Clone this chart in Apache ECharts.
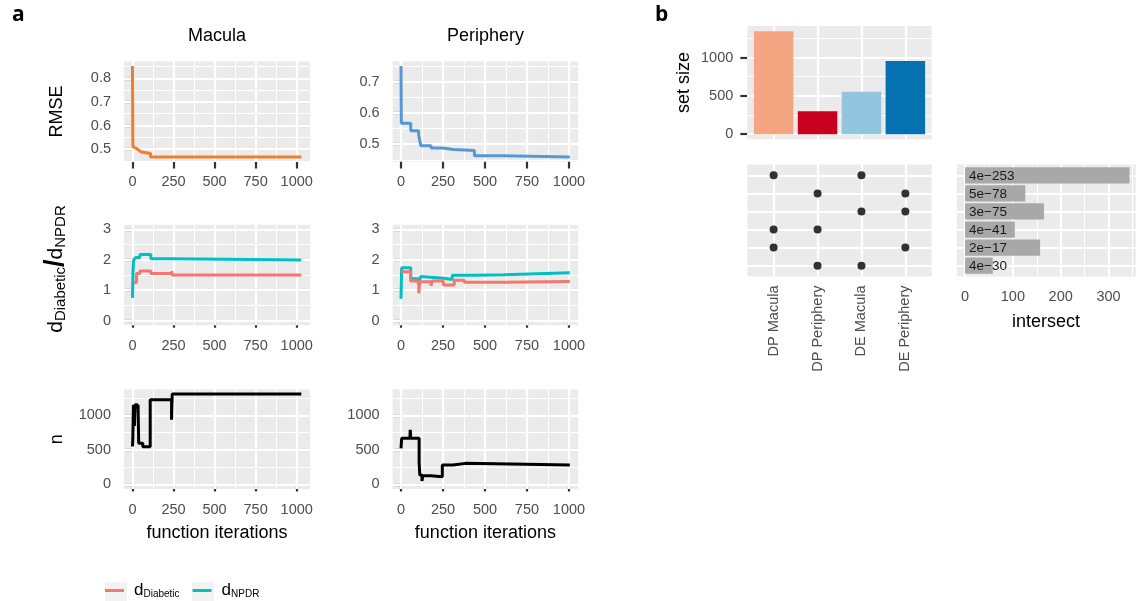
<!DOCTYPE html>
<html>
<head>
<meta charset="utf-8">
<script src="https://cdn.jsdelivr.net/npm/echarts@6/dist/echarts.min.js"></script>
<style>html,body{margin:0;padding:0;background:#fff}#c{width:1143px;height:601px}</style>
</head>
<body>
<div id="c"></div>
<script>
// ---------------- data ----------------
const iterTicks = [0, 250, 500, 750, 1000];
const rmseMaculaTicks = [0.5, 0.6, 0.7, 0.8];
const rmsePeripheryTicks = [0.5, 0.6, 0.7];
const ratioTicks = [0, 1, 2, 3];
const nTicks = [0, 500, 1000];
const setSizeTicks = [0, 500, 1000];
const intersectTicks = [0, 100, 200, 300];

// [function iteration, value]
const rmseMacula = [[0,0.852],[1,0.70],[2,0.56],[3,0.511],[12,0.503],[25,0.495],[40,0.488],[55,0.482],[110,0.467],[1028,0.467]];
const rmsePeriphery = [[0,0.75],[2,0.567],[58,0.543],[105,0.53],[112,0.51],[118,0.495],[179,0.488],[248,0.483],[312,0.48],[437,0.463],[613,0.459],[1005,0.459]];
const dNpdrMacula = [[0,0.75],[4,1.72],[8,2.0],[20,2.07],[45,2.17],[112,2.03],[240,1.99],[1028,1.99]];
const dDiabeticMacula = [[8,1.25],[25,1.55],[45,1.63],[112,1.55],[238,1.62],[242,1.5],[1028,1.5]];
const dNpdrPeriphery = [[0,0.72],[4,1.74],[58,1.38],[103,1.2],[113,1.38],[117,1.45],[122,1.39],[252,1.35],[305,1.49],[430,1.51],[613,1.57],[1005,1.57]];
const dDiabeticPeriphery = [[4,1.61],[57,1.3],[106,0.9],[112,1.28],[179,1.14],[185,1.3],[252,1.17],[317,1.33],[377,1.26],[613,1.29],[1005,1.29]];
const nMacula = [[0,550],[2,650],[6,1155],[12,850],[16,1155],[30,1100],[34,1155],[38,597],[63,548],[108,1228],[238,937],[242,1311],[1028,1311]];
const nPeriphery = [[0,524],[4,670],[53,670],[55,791],[58,670],[108,320],[112,136],[125,49],[130,126],[177,112],[246,282],[309,306],[384,282],[1005,282]];

const setNames = ['DP Macula', 'DP Periphery', 'DE Macula', 'DE Periphery'];
const setSizes = [1345, 298, 555, 955];
const intersectMembers = [[0,2],[1,3],[2,3],[0,1],[0,3],[1,2]];
const intersectSizes = [344, 126, 165, 104, 157, 58];
const intersectPvals = ['4e\u2212253','5e\u221278','3e\u221275','4e\u221241','2e\u221217','4e\u221230'];

// ---------------- style ----------------
const FONT = '"Liberation Sans", Arial, Helvetica, sans-serif';
const BG = '#EBEBEB';
const TICK_COLOR = '#333333';
const LABEL_COLOR = '#4D4D4D';
const MAJ_W = 2.2, MIN_W = 1.1;
const LINE_W = 3;
const setColors = ['#F4A582', '#CA0020', '#92C5DE', '#0571B0'];
const C_RMSE_MAC = '#F07F2D', C_RMSE_PER = '#5698D6', C_DIAB = '#F8766D', C_NPDR = '#00BFC4';

function minors(maj, lo, hi) {
  const step = maj[1] - maj[0], out = [];
  for (let i = -1; i < maj.length; i++) {
    const v = +(maj[0] + step * (i + 0.5)).toFixed(6);
    if (v > lo && v < hi) out.push(v);
  }
  return out;
}

const grid = [], xAxis = [], yAxis = [], series = [];

function axisDef(gi, r, s) {
  return {
    type: 'value', gridIndex: gi, min: r[0], max: r[1], inverse: !!s.inverse,
    axisLine: { show: false }, splitLine: { show: false }, minorSplitLine: { show: false },
    axisTick: s.ticks ? { show: true, customValues: s.ticks, length: 7, lineStyle: { color: TICK_COLOR, width: 2.2 } } : { show: false },
    axisLabel: s.labels ? {
      show: true, customValues: s.labels, formatter: s.fmt || (v => String(v)),
      color: LABEL_COLOR, fontSize: 14.5, fontFamily: FONT, margin: s.margin != null ? s.margin : 12, rotate: s.rotate || 0
    } : { show: false }
  };
}

function addPanel(rect, xr, yr, xs, ys, lines) {
  const gi = grid.length;
  grid.push({ left: rect[0], top: rect[1], width: rect[2], height: rect[3], show: true, backgroundColor: BG, borderWidth: 0, outerBoundsMode: 'none', containLabel: false });
  xAxis.push(axisDef(gi, xr, xs));
  yAxis.push(axisDef(gi, yr, ys));
  const d = [];
  (lines.xMin || []).forEach(v => d.push({ xAxis: v, lineStyle: { width: MIN_W } }));
  (lines.yMin || []).forEach(v => d.push({ yAxis: v, lineStyle: { width: MIN_W } }));
  (lines.xMaj || []).forEach(v => d.push({ xAxis: v, lineStyle: { width: MAJ_W } }));
  (lines.yMaj || []).forEach(v => d.push({ yAxis: v, lineStyle: { width: MAJ_W } }));
  series.push({
    type: 'line', xAxisIndex: gi, yAxisIndex: gi, data: [], silent: true, z: 1,
    markLine: { silent: true, z: 1, symbol: 'none', precision: 6, label: { show: false }, emphasis: { disabled: true },
      lineStyle: { color: '#ffffff', type: 'solid', width: MAJ_W }, animation: false, data: d }
  });
  return gi;
}

function stepLine(gi, name, data, color) {
  series.push({
    type: 'line', name: name, xAxisIndex: gi, yAxisIndex: gi, data: data, step: 'end', showSymbol: false, symbol: 'none',
    color: color, itemStyle: { color: color }, lineStyle: { color: color, width: LINE_W }, z: 3, silent: true, emphasis: { disabled: true }
  });
}

// ---------------- panel a ----------------
const colMac = { left: 124, width: 186, range: [-51.5, 1081] };
const colPer = { left: 392.6, width: 185.6, range: [-50, 1055] };
const rowTop = { top: 61.5, height: 100 }, rowMid = { top: 224.7, height: 100.6 }, rowBot = { top: 389.5, height: 99.5 };

function aPanel(col, row, yr, yt) {
  return addPanel([col.left, row.top, col.width, row.height], col.range, yr,
    { ticks: iterTicks, labels: iterTicks, margin: 13 },
    { ticks: yt, labels: yt, margin: 13 },
    { xMaj: iterTicks, xMin: minors(iterTicks, col.range[0], col.range[1]), yMaj: yt, yMin: minors(yt, yr[0], yr[1]) });
}

const g1 = aPanel(colMac, rowTop, [0.448, 0.871], rmseMaculaTicks);
stepLine(g1, 'RMSE Macula', rmseMacula, C_RMSE_MAC);
const g2 = aPanel(colPer, rowTop, [0.4445, 0.7646], rmsePeripheryTicks);
stepLine(g2, 'RMSE Periphery', rmsePeriphery, C_RMSE_PER);
const g3 = aPanel(colMac, rowMid, [-0.15, 3.15], ratioTicks);
stepLine(g3, 'dNPDR', dNpdrMacula, C_NPDR);
stepLine(g3, 'dDiabetic', dDiabeticMacula, C_DIAB);
const g4 = aPanel(colPer, rowMid, [-0.15, 3.15], ratioTicks);
stepLine(g4, 'dNPDR', dNpdrPeriphery, C_NPDR);
stepLine(g4, 'dDiabetic', dDiabeticPeriphery, C_DIAB);
const g5 = aPanel(colMac, rowBot, [-65.5, 1376.5], nTicks);
stepLine(g5, 'n Macula', nMacula, '#000000');
const g6 = aPanel(colPer, rowBot, [-65.5, 1376.5], nTicks);
stepLine(g6, 'n Periphery', nPeriphery, '#000000');

// ---------------- panel b ----------------
const setIdx = setNames.map((_, i) => i + 1);
const rowIdx = intersectSizes.map((_, i) => i + 1);
const setRange = [0.4, setNames.length + 0.6];
const rowRange = [0.4, intersectSizes.length + 0.6];

const gSet = addPanel([747.3, 26, 184.4, 113.3], setRange, [-67, 1412],
  {}, { ticks: setSizeTicks, labels: setSizeTicks, margin: 14 },
  { xMaj: setIdx, yMaj: setSizeTicks, yMin: minors(setSizeTicks, -67, 1412) });
series.push({
  type: 'bar', xAxisIndex: gSet, yAxisIndex: gSet, barWidth: 39.5, z: 3, silent: true,
  data: setSizes.map((v, i) => ({ value: [i + 1, v], itemStyle: { color: setColors[i] } }))
});

const gDot = addPanel([747.3, 164.5, 184.4, 112], setRange, rowRange,
  { labels: setIdx, fmt: v => setNames[Math.round(v) - 1], rotate: 90, margin: 9 },
  { inverse: true },
  { xMaj: setIdx, yMaj: rowIdx });
const dots = [];
intersectMembers.forEach((m, r) => m.forEach(s => dots.push([s + 1, r + 1])));
series.push({ type: 'scatter', xAxisIndex: gDot, yAxisIndex: gDot, data: dots, symbolSize: 8, itemStyle: { color: '#000' }, z: 3, silent: true });

const intRange = [-17.2, 357];
const gInt = addPanel([956.8, 164.5, 179, 112], intRange, rowRange,
  { labels: intersectTicks, margin: 13 },
  { inverse: true },
  { xMaj: intersectTicks, xMin: minors(intersectTicks, intRange[0], intRange[1]), yMaj: rowIdx });
series.push({
  type: 'custom', xAxisIndex: gInt, yAxisIndex: gInt, z: 3, silent: true,
  data: intersectSizes.map((v, i) => [v, i + 1]),
  renderItem: function (params, api) {
    const v = api.value(0), r = api.value(1);
    const p0 = api.coord([0, r]), p1 = api.coord([v, r]);
    const h = api.size([0, 0.9], [0, r])[1];
    return { type: 'group', children: [
      { type: 'rect', shape: { x: p0[0], y: p0[1] - h / 2, width: p1[0] - p0[0], height: h }, style: { fill: '#A8A8A8' } },
      { type: 'text', x: p0[0] + 4, y: p0[1] + 0.5, style: { text: intersectPvals[params.dataIndex], fill: '#1A1A1A', fontSize: 13.5, fontFamily: FONT, align: 'left', verticalAlign: 'middle' } }
    ] };
  }
});

// ---------------- text ----------------
function txt(x, y, text, size, extra) {
  return Object.assign({ type: 'text', x: x, y: y, silent: true,
    style: { text: text, fontSize: size, fontFamily: FONT, fill: '#000', align: 'center', verticalAlign: 'middle' } }, extra || {});
}
const graphic = [
  { type: 'text', left: 12, top: 5, silent: true, style: { text: 'a', font: 'bold 21px "Open Sans", "DejaVu Sans", sans-serif', fill: '#000' } },
  { type: 'text', left: 655, top: 5, silent: true, style: { text: 'b', font: 'bold 21px "Open Sans", "DejaVu Sans", sans-serif', fill: '#000' } },
  txt(217, 36, 'Macula', 18),
  txt(485.4, 36, 'Periphery', 18),
  txt(57, 111.5, 'RMSE', 18, { rotation: Math.PI / 2 }),
  txt(57, 439.3, 'n', 18, { rotation: Math.PI / 2 }),
  { type: 'text', x: 56, y: 269, rotation: Math.PI / 2, silent: true,
    style: { text: '{d|d}{s|Diabetic}{sl|/}{d|d}{s|NPDR}', align: 'center', verticalAlign: 'middle', fill: '#000',
      rich: { d: { fontSize: 21, fontFamily: FONT, lineHeight: 23 },
              s: { fontSize: 15, fontFamily: FONT, lineHeight: 14, verticalAlign: 'bottom' },
              sl: { fontSize: 27, fontFamily: FONT, lineHeight: 25, fontWeight: 'bold' } } } },
  txt(217, 533, 'function iterations', 18),
  txt(485.4, 533, 'function iterations', 18),
  txt(684, 82.6, 'set size', 18, { rotation: Math.PI / 2 }),
  txt(1046, 322, 'intersect', 18),
  { type: 'rect', silent: true, shape: { x: 105, y: 582, width: 22, height: 21 }, style: { fill: '#F2F2F2' } },
  { type: 'rect', silent: true, shape: { x: 192, y: 582, width: 22, height: 21 }, style: { fill: '#F2F2F2' } }
];

const option = {
  animation: false,
  backgroundColor: '#ffffff',
  textStyle: { fontFamily: FONT },
  grid: grid, xAxis: xAxis, yAxis: yAxis, series: series, graphic: graphic,
  legend: {
    left: 105, top: 582, padding: 0, itemWidth: 19, itemHeight: 3, itemGap: 13, icon: 'rect', selectedMode: false,
    data: ['dDiabetic', 'dNPDR'],
    formatter: n => n === 'dDiabetic' ? '{d|d}{s|Diabetic}' : '{d|d}{s|NPDR}',
    textStyle: { padding: [0, 0, 0, 5], rich: {
      d: { fontSize: 17, fontFamily: FONT, color: '#000', lineHeight: 18 },
      s: { fontSize: 10, fontFamily: FONT, color: '#000', lineHeight: 10, verticalAlign: 'bottom' } } }
  }
};

const chart = echarts.init(document.getElementById('c'), null, { renderer: 'canvas' });
chart.setOption(option);
</script>
</body>
</html>
